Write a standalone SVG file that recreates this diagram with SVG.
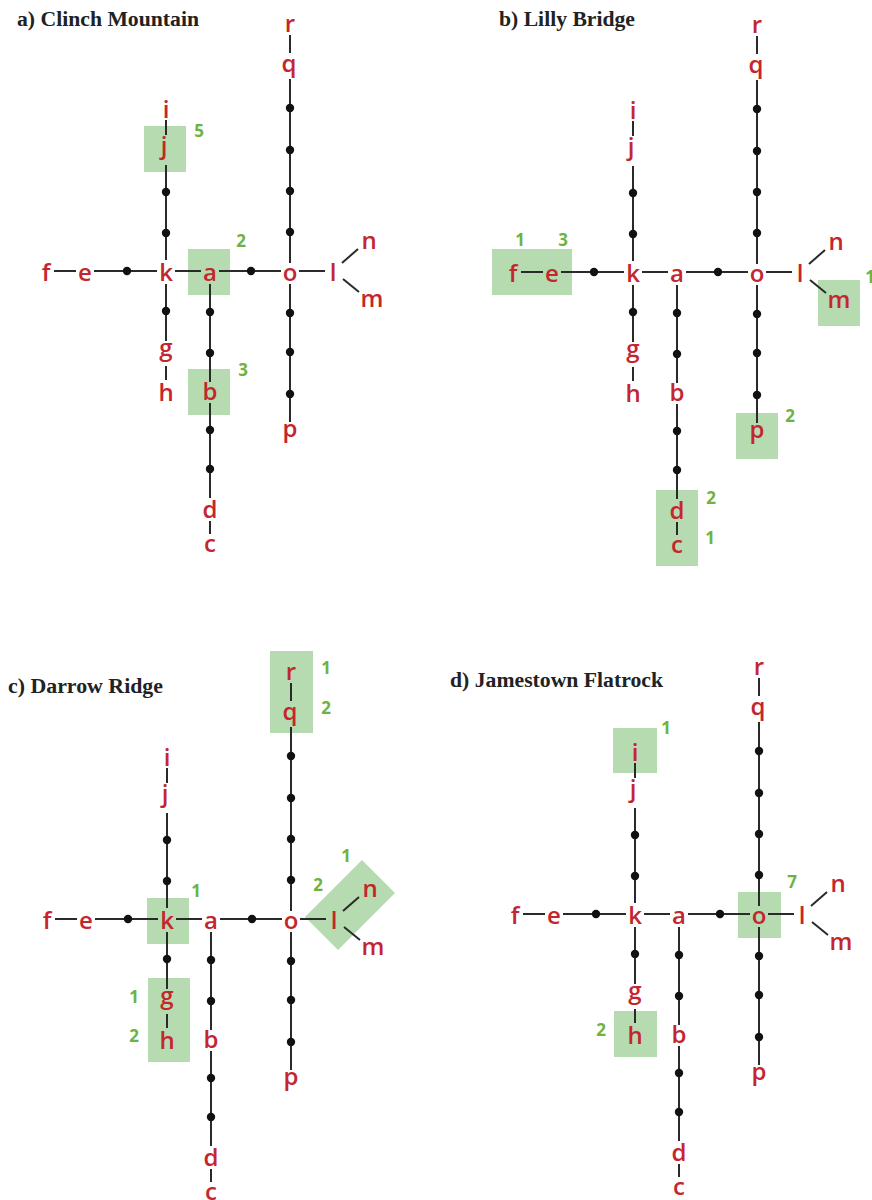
<svg xmlns="http://www.w3.org/2000/svg" width="872" height="1200" viewBox="0 0 872 1200">
<style>
.title{font-family:"Liberation Serif","Times New Roman",serif;font-weight:bold;font-size:20px;fill:#222}
.lbl{font-family:"Open Sans","Noto Sans",sans-serif;font-weight:600;font-size:24px;fill:#c4262e;text-anchor:middle}
.num{font-family:"Open Sans","Noto Sans",sans-serif;font-weight:700;font-size:17px;fill:#6db33f;text-anchor:middle}
.box{fill:#b6dbb0}
.edge{fill:none;stroke:#2a2a2a;stroke-width:2}
.dot{fill:#111}
</style>
<defs>
<path id="edges" class="edge" d="M54 271H76 M94 271H157 M175 271H201 M219 271H281 M299 271H325 M342 263L358 249 M343 279L359 292 M166 120V135 M166 165V260 M166 284V341 M166 366V380 M210 284V382 M210 403V498 M210 521V534 M290 35V53 M290 79V263 M290 284V422"/>
<g id="dots" class="dot">
<circle cx="127" cy="271" r="4.2"/><circle cx="251" cy="271" r="4.2"/>
<circle cx="166" cy="192" r="4.2"/><circle cx="166" cy="233" r="4.2"/><circle cx="166" cy="311" r="4.2"/>
<circle cx="210" cy="312" r="4.2"/><circle cx="210" cy="353" r="4.2"/><circle cx="210" cy="430" r="4.2"/><circle cx="210" cy="469" r="4.2"/>
<circle cx="290" cy="108" r="4.2"/><circle cx="290" cy="150" r="4.2"/><circle cx="290" cy="191" r="4.2"/><circle cx="290" cy="232" r="4.2"/>
<circle cx="290" cy="313" r="4.2"/><circle cx="290" cy="352" r="4.2"/><circle cx="290" cy="394" r="4.2"/>
</g>
</defs>

<g id="titles">
<text class="title" x="17" y="26" textLength="182" lengthAdjust="spacingAndGlyphs">a) Clinch Mountain</text>
<text class="title" x="499" y="26" textLength="136" lengthAdjust="spacingAndGlyphs">b) Lilly Bridge</text>
<text class="title" x="8" y="693" textLength="155" lengthAdjust="spacingAndGlyphs">c) Darrow Ridge</text>
<text class="title" x="450" y="687" textLength="213" lengthAdjust="spacingAndGlyphs">d) Jamestown Flatrock</text>
</g>

<!-- Panel a -->
<g id="panel-a">
<g id="pa-highlights">
<rect class="box" x="144" y="126" width="42" height="46"/>
<rect class="box" x="188" y="249" width="42" height="46"/>
<rect class="box" x="188" y="369" width="42" height="46"/>
<text class="num" x="199" y="137">5</text>
<text class="num" x="241" y="247">2</text>
<text class="num" x="243" y="376">3</text>
</g>
<g id="pa-connectors"><use href="#edges"/><use href="#dots"/></g>
<g id="pa-f"><text class="lbl" x="46" y="281">f</text></g>
<g id="pa-e"><text class="lbl" x="85" y="281">e</text></g>
<g id="pa-k"><text class="lbl" x="166" y="281">k</text></g>
<g id="pa-a"><text class="lbl" x="210" y="281">a</text></g>
<g id="pa-o"><text class="lbl" x="290" y="281">o</text></g>
<g id="pa-l"><text class="lbl" x="333" y="281">l</text></g>
<g id="pa-n"><text class="lbl" x="369" y="249">n</text></g>
<g id="pa-m"><text class="lbl" x="372" y="307">m</text></g>
<g id="pa-r"><text class="lbl" x="290" y="32">r</text></g>
<g id="pa-q"><text class="lbl" x="289" y="72">q</text></g>
<g id="pa-p"><text class="lbl" x="290" y="437">p</text></g>
<g id="pa-i"><text class="lbl" x="166" y="118">i</text></g>
<g id="pa-j"><text class="lbl" x="164" y="154">j</text></g>
<g id="pa-g"><text class="lbl" x="166" y="356">g</text></g>
<g id="pa-h"><text class="lbl" x="166" y="401">h</text></g>
<g id="pa-b"><text class="lbl" x="210" y="400">b</text></g>
<g id="pa-d"><text class="lbl" x="210" y="518">d</text></g>
<g id="pa-c"><text class="lbl" x="210" y="552">c</text></g>
</g>

<!-- Panel b -->
<g id="panel-b" transform="translate(467,1)">
<g id="pb-highlights">
<rect class="box" x="25" y="248" width="80" height="46"/>
<rect class="box" x="351" y="279" width="42" height="46"/>
<rect class="box" x="269" y="412" width="42" height="46"/>
<rect class="box" x="189" y="489" width="42" height="76"/>
<text class="num" x="53" y="245">1</text>
<text class="num" x="96" y="245">3</text>
<text class="num" x="403" y="282">1</text>
<text class="num" x="323" y="421">2</text>
<text class="num" x="244" y="503">2</text>
<text class="num" x="243" y="543">1</text>
</g>
<g id="pb-connectors"><use href="#edges"/><use href="#dots"/></g>
<g id="pb-f"><text class="lbl" x="46" y="281">f</text></g>
<g id="pb-e"><text class="lbl" x="85" y="281">e</text></g>
<g id="pb-k"><text class="lbl" x="166" y="281">k</text></g>
<g id="pb-a"><text class="lbl" x="210" y="281">a</text></g>
<g id="pb-o"><text class="lbl" x="290" y="281">o</text></g>
<g id="pb-l"><text class="lbl" x="333" y="281">l</text></g>
<g id="pb-n"><text class="lbl" x="369" y="249">n</text></g>
<g id="pb-m"><text class="lbl" x="372" y="307">m</text></g>
<g id="pb-r"><text class="lbl" x="290" y="32">r</text></g>
<g id="pb-q"><text class="lbl" x="289" y="72">q</text></g>
<g id="pb-p"><text class="lbl" x="290" y="437">p</text></g>
<g id="pb-i"><text class="lbl" x="166" y="118">i</text></g>
<g id="pb-j"><text class="lbl" x="164" y="154">j</text></g>
<g id="pb-g"><text class="lbl" x="166" y="356">g</text></g>
<g id="pb-h"><text class="lbl" x="166" y="401">h</text></g>
<g id="pb-b"><text class="lbl" x="210" y="400">b</text></g>
<g id="pb-d"><text class="lbl" x="210" y="518">d</text></g>
<g id="pb-c"><text class="lbl" x="210" y="552">c</text></g>
</g>

<!-- Panel c -->
<g id="panel-c" transform="translate(1,648)">
<g id="pc-highlights">
<rect class="box" x="269" y="3" width="43" height="82"/>
<rect class="box" x="146" y="250" width="42" height="46"/>
<rect class="box" x="147" y="330" width="42" height="84"/>
<polygon class="box" points="304,269 361,212 394,245 337,302"/>
<text class="num" x="325" y="26">1</text>
<text class="num" x="325" y="66">2</text>
<text class="num" x="195" y="249">1</text>
<text class="num" x="133" y="355">1</text>
<text class="num" x="133" y="394">2</text>
<text class="num" x="317" y="243">2</text>
<text class="num" x="345" y="214">1</text>
</g>
<g id="pc-connectors"><use href="#edges"/><use href="#dots"/></g>
<g id="pc-f"><text class="lbl" x="46" y="281">f</text></g>
<g id="pc-e"><text class="lbl" x="85" y="281">e</text></g>
<g id="pc-k"><text class="lbl" x="166" y="281">k</text></g>
<g id="pc-a"><text class="lbl" x="210" y="281">a</text></g>
<g id="pc-o"><text class="lbl" x="290" y="281">o</text></g>
<g id="pc-l"><text class="lbl" x="333" y="281">l</text></g>
<g id="pc-n"><text class="lbl" x="369" y="249">n</text></g>
<g id="pc-m"><text class="lbl" x="372" y="307">m</text></g>
<g id="pc-r"><text class="lbl" x="290" y="32">r</text></g>
<g id="pc-q"><text class="lbl" x="289" y="72">q</text></g>
<g id="pc-p"><text class="lbl" x="290" y="437">p</text></g>
<g id="pc-i"><text class="lbl" x="166" y="118">i</text></g>
<g id="pc-j"><text class="lbl" x="164" y="154">j</text></g>
<g id="pc-g"><text class="lbl" x="166" y="356">g</text></g>
<g id="pc-h"><text class="lbl" x="166" y="401">h</text></g>
<g id="pc-b"><text class="lbl" x="210" y="400">b</text></g>
<g id="pc-d"><text class="lbl" x="210" y="518">d</text></g>
<g id="pc-c"><text class="lbl" x="210" y="552">c</text></g>
</g>

<!-- Panel d -->
<g id="panel-d" transform="translate(469,643)">
<g id="pd-highlights">
<rect class="box" x="144" y="85" width="44" height="45"/>
<rect class="box" x="269" y="249" width="43" height="46"/>
<rect class="box" x="145" y="368" width="43" height="46"/>
<text class="num" x="197" y="91">1</text>
<text class="num" x="323" y="245">7</text>
<text class="num" x="132" y="393">2</text>
</g>
<g id="pd-connectors"><use href="#edges"/><use href="#dots"/></g>
<g id="pd-f"><text class="lbl" x="46" y="281">f</text></g>
<g id="pd-e"><text class="lbl" x="85" y="281">e</text></g>
<g id="pd-k"><text class="lbl" x="166" y="281">k</text></g>
<g id="pd-a"><text class="lbl" x="210" y="281">a</text></g>
<g id="pd-o"><text class="lbl" x="290" y="281">o</text></g>
<g id="pd-l"><text class="lbl" x="333" y="281">l</text></g>
<g id="pd-n"><text class="lbl" x="369" y="249">n</text></g>
<g id="pd-m"><text class="lbl" x="372" y="307">m</text></g>
<g id="pd-r"><text class="lbl" x="290" y="32">r</text></g>
<g id="pd-q"><text class="lbl" x="289" y="72">q</text></g>
<g id="pd-p"><text class="lbl" x="290" y="437">p</text></g>
<g id="pd-i"><text class="lbl" x="166" y="118">i</text></g>
<g id="pd-j"><text class="lbl" x="164" y="154">j</text></g>
<g id="pd-g"><text class="lbl" x="166" y="356">g</text></g>
<g id="pd-h"><text class="lbl" x="166" y="401">h</text></g>
<g id="pd-b"><text class="lbl" x="210" y="400">b</text></g>
<g id="pd-d"><text class="lbl" x="210" y="518">d</text></g>
<g id="pd-c"><text class="lbl" x="210" y="552">c</text></g>
</g>
</svg>
